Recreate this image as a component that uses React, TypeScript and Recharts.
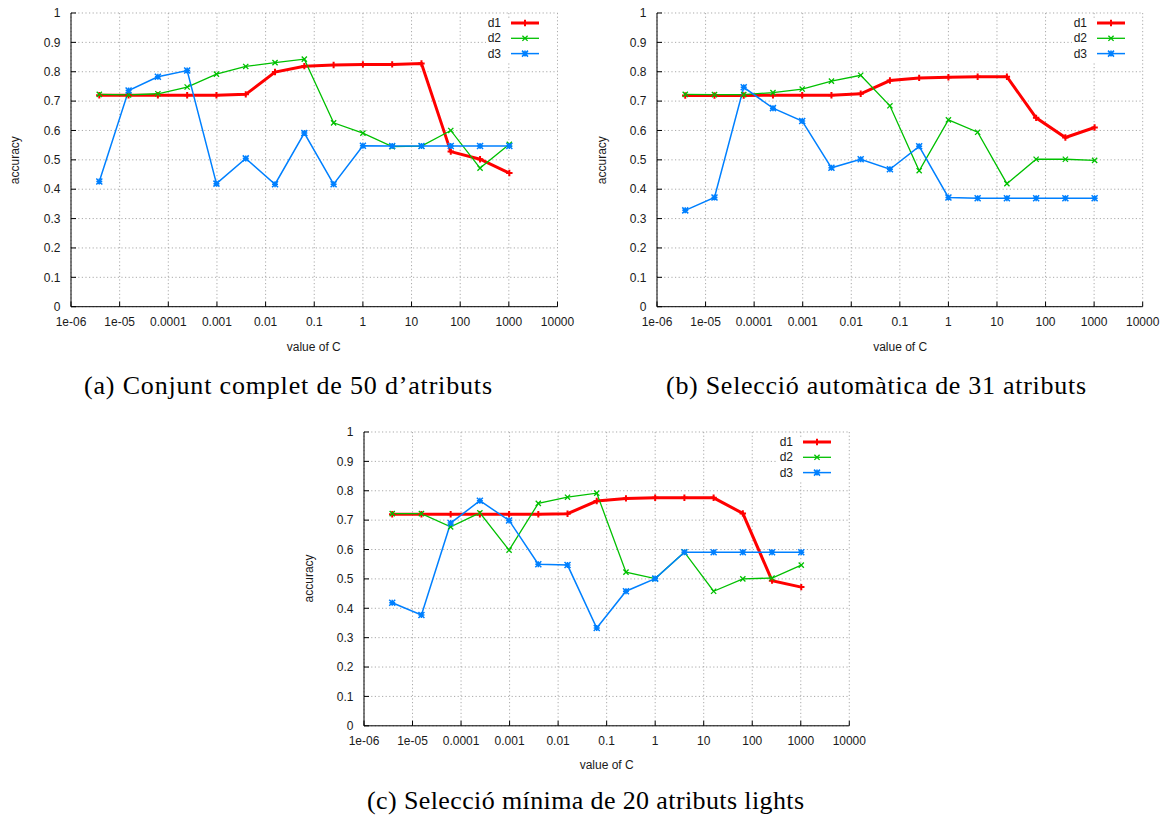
import React from 'react';
import { LineChart, Line, XAxis, YAxis, CartesianGrid, Legend } from 'recharts';

// x values: C = 2^-18 ... 2^10
const C_VALUES = [
  3.814697265625e-6, 1.52587890625e-5, 6.103515625e-5, 2.44140625e-4, 9.765625e-4,
  3.90625e-3, 0.015625, 0.0625, 0.25, 1, 4, 16, 64, 256, 1024,
];

const X_TICKS = [1e-6, 1e-5, 1e-4, 1e-3, 1e-2, 1e-1, 1, 10, 100, 1000, 10000];
const X_TICK_LABELS = ['1e-06', '1e-05', '0.0001', '0.001', '0.01', '0.1', '1', '10', '100', '1000', '10000'];
const Y_TICKS = [0, 0.1, 0.2, 0.3, 0.4, 0.5, 0.6, 0.7, 0.8, 0.9, 1];
const Y_TICK_LABELS = ['0', '0.1', '0.2', '0.3', '0.4', '0.5', '0.6', '0.7', '0.8', '0.9', '1'];

const SERIES_NAMES = ['d1', 'd2', 'd3'];

// (a) full set of 50 attributes
const A_D1 = [0.72, 0.72, 0.72, 0.72, 0.72, 0.723, 0.799, 0.819, 0.823, 0.825, 0.825, 0.828, 0.528, 0.502, 0.455];
const A_D2 = [0.723, 0.721, 0.725, 0.748, 0.792, 0.818, 0.831, 0.843, 0.626, 0.591, 0.545, 0.547, 0.6, 0.472, 0.553];
const A_D3 = [0.426, 0.736, 0.783, 0.804, 0.419, 0.505, 0.417, 0.591, 0.417, 0.548, 0.547, 0.547, 0.547, 0.547, 0.547];

// (b) automatic selection of 31 attributes
const B_D1 = [0.719, 0.719, 0.719, 0.72, 0.72, 0.72, 0.725, 0.77, 0.779, 0.781, 0.783, 0.783, 0.643, 0.576, 0.61];
const B_D2 = [0.723, 0.722, 0.722, 0.729, 0.741, 0.768, 0.788, 0.684, 0.463, 0.636, 0.594, 0.419, 0.502, 0.502, 0.498];
const B_D3 = [0.328, 0.372, 0.747, 0.676, 0.632, 0.473, 0.502, 0.468, 0.546, 0.372, 0.369, 0.369, 0.369, 0.369, 0.369];

// (c) minimal selection of 20 attributes
const C_D1 = [0.72, 0.72, 0.72, 0.72, 0.72, 0.72, 0.722, 0.765, 0.774, 0.776, 0.776, 0.776, 0.723, 0.494, 0.472];
const C_D2 = [0.722, 0.722, 0.677, 0.725, 0.598, 0.757, 0.778, 0.792, 0.523, 0.501, 0.591, 0.458, 0.5, 0.503, 0.547];
const C_D3 = [0.419, 0.377, 0.69, 0.766, 0.699, 0.55, 0.547, 0.333, 0.458, 0.501, 0.591, 0.591, 0.591, 0.591, 0.591];

const CAPTIONS = [
  '(a) Conjunt complet de 50 d\u2019atributs',
  '(b) Selecci\u00f3 autom\u00e0tica de 31 atributs',
  '(c) Selecci\u00f3 m\u00ednima de 20 atributs lights',
];

const X_TITLE = 'value of C';
const Y_TITLE = 'accuracy';

const SANS = '"Liberation Sans", Arial, Helvetica, sans-serif';
const SERIF = '"Liberation Serif", "DejaVu Serif", serif';
const FS = 12;
const TICK_STYLE = { fontSize: FS, fill: '#1a1a1a', fontFamily: SANS };

const STYLES = [
  { color: '#ff0000', width: 3, marker: 'plus', ms: 3.2, mw: 2 },
  { color: '#00c000', width: 1.3, marker: 'cross', ms: 2.6, mw: 1.3 },
  { color: '#0080ff', width: 1.5, marker: 'star', ms: 3, mw: 1.5 },
];

function markerPath(kind: string, cx: number, cy: number, s: number) {
  const plus = `M${cx - s},${cy}H${cx + s}M${cx},${cy - s}V${cy + s}`;
  const cross = `M${cx - s},${cy - s}L${cx + s},${cy + s}M${cx - s},${cy + s}L${cx + s},${cy - s}`;
  if (kind === 'plus') return plus;
  if (kind === 'cross') return cross;
  return plus + cross;
}

function makeDot(idx: number) {
  const st = STYLES[idx];
  return (props: any) => {
    const { cx, cy, index } = props;
    if (cx == null || cy == null) return <g key={`n-${idx}-${index}`} />;
    return (
      <path
        key={`m-${idx}-${index}`}
        d={markerPath(st.marker, cx, cy, st.ms)}
        stroke={st.color}
        strokeWidth={st.mw}
        fill="none"
      />
    );
  };
}

const LEGEND_W = 70;
const LEGEND_H = 45;

function LegendBox(props: any) {
  const payload = (props.payload || []) as any[];
  return (
    <svg width={LEGEND_W} height={LEGEND_H} style={{ display: 'block', background: '#fff', overflow: 'visible' }}>
      {payload.map((entry, i) => {
        const st = STYLES[i] || STYLES[0];
        const cy = 5 + i * 15.3;
        return (
          <g key={`lg-${i}`}>
            <text x={15} y={cy} textAnchor="end" dominantBaseline="central" fontSize={FS} fontFamily={SANS} fill="#1a1a1a">
              {entry.value}
            </text>
            <line x1={25} x2={53} y1={cy} y2={cy} stroke={entry.color} strokeWidth={st.width} />
            <path d={markerPath(st.marker, 39, cy, st.ms)} stroke={entry.color} strokeWidth={st.mw} fill="none" />
          </g>
        );
      })}
    </svg>
  );
}

type PanelProps = {
  plotLeft: number;
  plotTop: number;
  plotWidth: number;
  plotHeight: number;
  d1: number[];
  d2: number[];
  d3: number[];
};

const fmtX = (v: number) => {
  const i = X_TICKS.findIndex((t) => Math.abs(Math.log10(t) - Math.log10(v)) < 1e-6);
  return i >= 0 ? X_TICK_LABELS[i] : String(v);
};
const fmtY = (v: number) => {
  const i = Y_TICKS.findIndex((t) => Math.abs(t - v) < 1e-9);
  return i >= 0 ? Y_TICK_LABELS[i] : String(v);
};

function Panel({ plotLeft, plotTop, plotWidth, plotHeight, d1, d2, d3 }: PanelProps) {
  const mL = 60;
  const mT = 10;
  const mR = 20;
  const xAxisH = 50;
  const width = mL + plotWidth + mR;
  const height = mT + plotHeight + xAxisH;
  const data = C_VALUES.map((c, i) => ({ c, d1: d1[i], d2: d2[i], d3: d3[i] }));
  return (
    <div style={{ position: 'absolute', left: plotLeft - mL, top: plotTop - mT }}>
      <LineChart width={width} height={height} data={data} margin={{ top: mT, right: mR, left: 0, bottom: 0 }}>
        <CartesianGrid stroke="#a0a0a0" strokeDasharray="1.2 2.4" strokeWidth={0.9} />
        <XAxis
          dataKey="c"
          type="number"
          scale="log"
          domain={[1e-6, 1e4]}
          allowDataOverflow
          ticks={X_TICKS}
          interval={0}
          tickFormatter={fmtX}
          height={xAxisH}
          tickSize={-5}
          tickMargin={16}
          axisLine={{ stroke: '#000', strokeWidth: 1 }}
          tickLine={{ stroke: '#000', strokeWidth: 1 }}
          tick={TICK_STYLE}
        />
        <XAxis
          xAxisId="top"
          orientation="top"
          dataKey="c"
          type="number"
          scale="log"
          domain={[1e-6, 1e4]}
          allowDataOverflow
          ticks={X_TICKS}
          interval={0}
          height={0}
          tickSize={-5}
          tick={false}
          axisLine={{ stroke: '#000', strokeWidth: 1 }}
          tickLine={{ stroke: '#000', strokeWidth: 1 }}
        />
        <YAxis
          type="number"
          domain={[0, 1]}
          ticks={Y_TICKS}
          interval={0}
          tickFormatter={fmtY}
          width={mL}
          tickSize={-5}
          tickMargin={15.5}
          axisLine={{ stroke: '#000', strokeWidth: 1 }}
          tickLine={{ stroke: '#000', strokeWidth: 1 }}
          tick={TICK_STYLE}
        />
        <YAxis
          yAxisId="right"
          orientation="right"
          type="number"
          domain={[0, 1]}
          ticks={Y_TICKS}
          interval={0}
          width={0}
          tickSize={-5}
          tick={false}
          axisLine={{ stroke: '#000', strokeWidth: 1 }}
          tickLine={{ stroke: '#000', strokeWidth: 1 }}
        />
        <Legend
          align="center"
          verticalAlign="middle"
          layout="vertical"
          content={<LegendBox />}
          wrapperStyle={{
            left: mL + plotWidth - LEGEND_W - 1,
            top: mT + 5,
            width: LEGEND_W,
            height: LEGEND_H,
            background: '#fff',
          }}
        />
        {SERIES_NAMES.map((name, i) => (
          <Line
            key={name}
            type="linear"
            dataKey={name}
            name={name}
            stroke={STYLES[i].color}
            strokeWidth={STYLES[i].width}
            dot={makeDot(i)}
            activeDot={false}
            isAnimationActive={false}
          />
        ))}
      </LineChart>
    </div>
  );
}

const PANELS = [
  { plotLeft: 70.5, plotTop: 13.3, plotWidth: 486.5, plotHeight: 293.7, d1: A_D1, d2: A_D2, d3: A_D3, capX: 288, capY: 394, capW: 408 },
  { plotLeft: 657.3, plotTop: 13.3, plotWidth: 485.7, plotHeight: 293.7, d1: B_D1, d2: B_D2, d3: B_D3, capX: 876, capY: 394, capW: 420 },
  { plotLeft: 364, plotTop: 431.5, plotWidth: 485.3, plotHeight: 293.8, d1: C_D1, d2: C_D2, d3: C_D3, capX: 585.5, capY: 809, capW: 437 },
];

export default function App() {
  return (
    <div style={{ position: 'absolute', left: 0, top: 0, width: 1169, height: 818, background: '#fff', overflow: 'hidden' }}>
      {PANELS.map((p, i) => (
        <Panel key={i} plotLeft={p.plotLeft} plotTop={p.plotTop} plotWidth={p.plotWidth} plotHeight={p.plotHeight} d1={p.d1} d2={p.d2} d3={p.d3} />
      ))}
      <svg width={1169} height={818} style={{ position: 'absolute', left: 0, top: 0, pointerEvents: 'none' }}>
        {PANELS.map((p, i) => {
          const cx = p.plotLeft + p.plotWidth / 2;
          const ax = p.plotLeft - 55;
          const ay = p.plotTop + p.plotHeight / 2;
          return (
            <g key={`t-${i}`}>
              <text x={cx} y={p.plotTop + p.plotHeight + 44} textAnchor="middle" fontSize={FS} fontFamily={SANS} fill="#1a1a1a">
                {X_TITLE}
              </text>
              <text
                x={ax}
                y={ay}
                textAnchor="middle"
                dominantBaseline="central"
                fontSize={FS}
                fontFamily={SANS}
                fill="#1a1a1a"
                transform={`rotate(-90 ${ax} ${ay})`}
              >
                {Y_TITLE}
              </text>
              <text
                x={p.capX - p.capW / 2}
                y={p.capY}
                fontSize={26}
                fontFamily={SERIF}
                fill="#000"
                textLength={p.capW}
                lengthAdjust="spacing"
              >
                {CAPTIONS[i]}
              </text>
            </g>
          );
        })}
      </svg>
    </div>
  );
}
